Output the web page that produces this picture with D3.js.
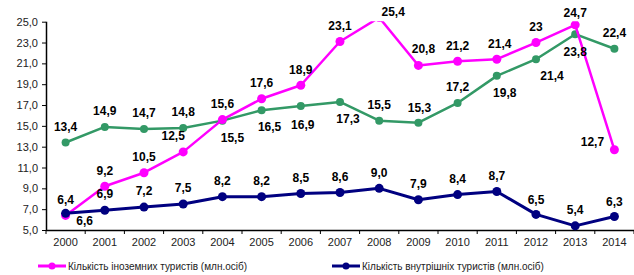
<!DOCTYPE html>
<html>
<head>
<meta charset="utf-8">
<script src="https://cdn.jsdelivr.net/npm/d3@7"></script>
<style>
html,body{margin:0;padding:0;background:#fff;}
svg{display:block;font-family:"Liberation Sans",Arial,sans-serif;}
</style>
</head>
<body>
<svg id="chart" width="634" height="275"></svg>
<script>
// ---- data ----
const years = ["2000","2001","2002","2003","2004","2005","2006","2007","2008","2009","2010","2011","2012","2013","2014"];
const foreign = [6.4, 9.2, 10.5, 12.5, 15.6, 17.6, 18.9, 23.1, 25.4, 20.8, 21.2, 21.4, 23, 24.7, 12.7];
const totalSeries = [13.4, 14.9, 14.7, 14.8, 15.5, 16.5, 16.9, 17.3, 15.5, 15.3, 17.2, 19.8, 21.4, 23.8, 22.4];
const domestic = [6.6, 6.9, 7.2, 7.5, 8.2, 8.2, 8.5, 8.6, 9.0, 7.9, 8.4, 8.7, 6.5, 5.4, 6.3];
const yTicks = [5, 7, 9, 11, 13, 15, 17, 19, 21, 23, 25];
const foreignName = "Кількість іноземних туристів (млн.осіб)";
const domesticName = "Кількість внутрішніх туристів (млн.осіб)";

// ---- label layout (offsets from point, px) ----
const up = [0, -16];
const foreignOff = [up, up, up, [-10,-16], up, up, up, up, [14,-6], [5,-17], up, [3,-16], up, [0,-12], [-22,-8]];
const totalOff = [up, up, up, up, [10,17], [8,16], [2,19], [8,17], up, [1,-15], up, [8,17], [16,16], [0,17], up];
const domesticOff = [[19,7], [0,-17], up, up, up, up, up, up, up, up, up, up, [0,-15], [0,-16], [0,-15]];

const fmt = v => d3.format(".1f")(v).replace(".", ",");
const fmtForeign = v => (v === 23 ? "23" : fmt(v));

const svg = d3.select("#chart");
const pL = 46, pR = 634, pT = 21.7, pB = 230;

const x = d3.scaleBand().domain(years).range([pL, pR]).padding(0);
const y = d3.scaleLinear().domain([5, 25]).range([pB, pT]);
const cx = d => x(d) + x.bandwidth() / 2;

svg.append("defs").append("clipPath").attr("id", "plotclip")
  .append("rect").attr("x", pL).attr("y", pT - 0.5).attr("width", pR - pL).attr("height", pB - pT + 10);

// axes
const yAxis = svg.append("g").attr("transform", `translate(${pL},0)`)
  .call(d3.axisLeft(y).tickValues(yTicks).tickSize(4).tickPadding(4).tickFormat(fmt));
yAxis.select(".domain").attr("stroke", "#000").attr("stroke-width", 1.5).attr("d", `M0.5,${pT}V${pB}`);
yAxis.selectAll(".tick line").attr("stroke", "#000");
yAxis.selectAll("text").attr("font-size", 11).attr("fill", "#222").attr("font-family", "Liberation Sans, Arial, sans-serif");

const xAxis = svg.append("g").attr("transform", `translate(0,${pB})`)
  .call(d3.axisBottom(x).tickSize(0).tickPadding(8));
xAxis.select(".domain").attr("stroke", "#000").attr("stroke-width", 1.5).attr("d", `M${pL},0.5H${pR}`);
xAxis.selectAll("text").attr("font-size", 11).attr("fill", "#222").attr("font-family", "Liberation Sans, Arial, sans-serif");
// tick marks between categories
xAxis.selectAll(".sep").data(d3.range(years.length + 1)).enter().append("line")
  .attr("x1", i => pL + i * x.bandwidth()).attr("x2", i => pL + i * x.bandwidth())
  .attr("y1", 0).attr("y2", 4).attr("stroke", "#000");

const plot = svg.append("g").attr("clip-path", "url(#plotclip)");
const labels = svg.append("g");

function drawSeries(vals, color, lw, r, offs, f) {
  const line = d3.line().x((d, i) => cx(years[i])).y(d => y(d));
  plot.append("path").datum(vals).attr("d", line).attr("fill", "none")
    .attr("stroke", color).attr("stroke-width", lw).attr("stroke-linejoin", "round");
  plot.selectAll(null).data(vals).enter().append("circle")
    .attr("cx", (d, i) => cx(years[i])).attr("cy", d => y(d)).attr("r", r).attr("fill", color);
  labels.selectAll(null).data(vals).enter().append("text")
    .attr("x", (d, i) => cx(years[i]) + offs[i][0])
    .attr("y", (d, i) => y(d) + offs[i][1])
    .attr("dy", "0.36em").attr("text-anchor", "middle")
    .attr("font-size", 12).attr("font-weight", "bold").attr("fill", "#000")
    .text(d => f(d));
}

drawSeries(totalSeries, "#339966", 2.5, 4, totalOff, fmt);
drawSeries(foreign, "#ff00ff", 2.5, 4.5, foreignOff, fmtForeign);
drawSeries(domestic, "#000080", 3, 4.5, domesticOff, fmt);

// legend
const legendItems = [
  {name: foreignName, color: "#ff00ff", x: 38},
  {name: domesticName, color: "#000080", x: 332}
];
const lg = svg.append("g");
legendItems.forEach(l => {
  lg.append("line").attr("x1", l.x).attr("x2", l.x + 28).attr("y1", 266).attr("y2", 266)
    .attr("stroke", l.color).attr("stroke-width", 3);
  lg.append("circle").attr("cx", l.x + 14).attr("cy", 266).attr("r", 3.5).attr("fill", l.color);
  lg.append("text").attr("x", l.x + 30).attr("y", 266).attr("dy", "0.35em")
    .attr("font-size", 10).attr("fill", "#222").text(l.name);
});
</script>
</body>
</html>
